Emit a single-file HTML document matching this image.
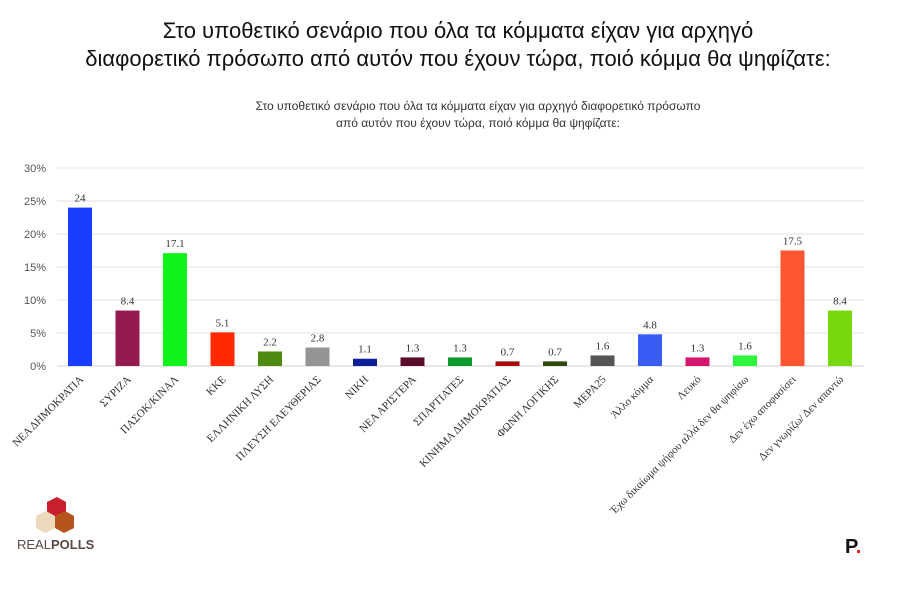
<!DOCTYPE html>
<html><head><meta charset="utf-8"><style>
body{margin:0;background:#fff;width:917px;height:592px;overflow:hidden;font-family:"Liberation Sans","Noto Sans CJK JP",sans-serif;}
</style></head><body>
<svg id="chart" width="917" height="592" xmlns="http://www.w3.org/2000/svg" font-family="Liberation Sans, sans-serif">
<text x="458" y="38" text-anchor="middle" font-size="22" fill="#111">Στο υποθετικό σενάριο που όλα τα κόμματα είχαν για αρχηγό</text>
<text x="458" y="66" text-anchor="middle" font-size="22" fill="#111">διαφορετικό πρόσωπο από αυτόν που έχουν τώρα, ποιό κόμμα θα ψηφίζατε:</text>
<text x="478" y="110" text-anchor="middle" font-size="12" fill="#333">Στο υποθετικό σενάριο που όλα τα κόμματα είχαν για αρχηγό διαφορετικό πρόσωπο</text>
<text x="478" y="127" text-anchor="middle" font-size="12" fill="#333">από αυτόν που έχουν τώρα, ποιό κόμμα θα ψηφίζατε:</text>
<g id="grid"></g><g id="bars"></g><g id="labels"></g>
<g>
<polygon points="47,502 57,497 66,502 66,514 56,519 47,514" fill="#c8202f"/>
<polygon points="36,516 46,511 55,516 55,528 45,533 36,528" fill="#ecd9bd"/>
<polygon points="55,516 65,511 74,516 74,528 64,533 55,528" fill="#b5541c"/>
<text x="17" y="549" font-size="13" fill="#5a4a44">REAL<tspan font-weight="bold">POLLS</tspan></text>
</g>
<text x="845" y="553" font-size="20" font-weight="bold" fill="#111">P<tspan fill="#e02020">.</tspan></text>
</svg>
<script>
const categories=["ΝΕΑ ΔΗΜΟΚΡΑΤΙΑ","ΣΥΡΙΖΑ","ΠΑΣΟΚ/ΚΙΝΑΛ","ΚΚΕ","ΕΛΛΗΝΙΚΗ ΛΥΣΗ","ΠΛΕΥΣΗ ΕΛΕΥΘΕΡΙΑΣ","ΝΙΚΗ","ΝΕΑ ΑΡΙΣΤΕΡΑ","ΣΠΑΡΤΙΑΤΕΣ","ΚΙΝΗΜΑ ΔΗΜΟΚΡΑΤΙΑΣ","ΦΩΝΗ ΛΟΓΙΚΗΣ","ΜΕΡΑ25","Άλλο κόμμα","Λευκό","Έχω δικαίωμα ψήφου αλλά δεν θα ψηφίσω","Δεν έχω αποφασίσει","Δεν γνωρίζω/ Δεν απαντώ"];
const values=[24,8.4,17.1,5.1,2.2,2.8,1.1,1.3,1.3,0.7,0.7,1.6,4.8,1.3,1.6,17.5,8.4];
const colors=["#1a3cff","#951a4f","#11f21a","#ff2a00","#4d8a10","#949494","#0c1f9a","#5a0d2a","#0b9a2b","#a50d0d","#2f4a0a","#555555","#3a5cf6","#d3166e","#2cf53c","#ff5530","#76d80a"];
const ticks=[0,5,10,15,20,25,30];
const NS="http://www.w3.org/2000/svg";
const y0=366,pxPer=6.6,x0=80,step=47.5,bw=24;
const yScale=v=>y0-v*pxPer;
const xScale=i=>x0+i*step;
const grid=document.getElementById('grid'),bars=document.getElementById('bars'),labels=document.getElementById('labels');
function mk(tag,attrs,parent){const e=document.createElementNS(NS,tag);for(const k in attrs)e.setAttribute(k,attrs[k]);parent.appendChild(e);return e;}
ticks.forEach(t=>{
const l=mk('line',{x1:57,x2:864,y1:yScale(t),y2:yScale(t),stroke:t===0?'#cfcfcf':'#e2e2e2','stroke-width':1},grid);


const tx=mk('text',{x:46,y:yScale(t)+4,'text-anchor':'end','font-size':11,fill:'#555'},grid);
tx.textContent=t+'%';


});
values.forEach((v,i)=>{
const cx=xScale(i);
const r=mk('rect',{x:cx-bw/2,y:yScale(v),width:bw,height:v*pxPer,fill:colors[i]},bars);


const vt=mk('text',{x:cx,y:yScale(v)-6,'text-anchor':'middle','font-size':11,fill:'#333','font-family':'Liberation Serif, serif'},labels);
vt.textContent=String(v);


const ct=mk('text',{x:cx+4,y:y0+14,'text-anchor':'end','font-size':11,fill:'#333','font-family':'Liberation Serif, serif',transform:`rotate(-45 ${cx+4} ${y0+14})`},labels);
ct.textContent=categories[i];


});
</script>
</body></html>
